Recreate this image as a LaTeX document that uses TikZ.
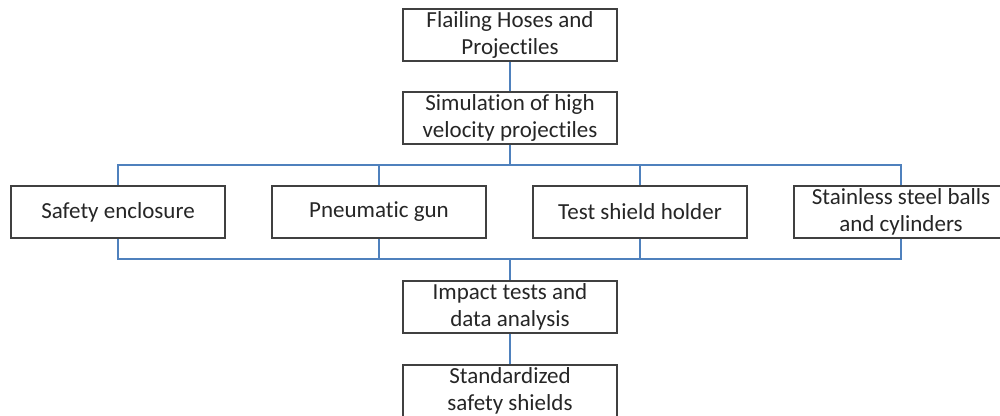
\documentclass[tikz,border=0pt]{standalone}
\usepackage{fontspec}
\setmainfont{Carlito}[Ligatures=NoCommon]
\usetikzlibrary{positioning}
\definecolor{linkblue}{RGB}{79,129,189}

\begin{document}
\begin{tikzpicture}[x=1pt,y=1pt,node distance=261pt,
    box/.style={draw=black!75,line width=1.6pt,fill=white,minimum width=214pt,minimum height=52pt,
                align=center,inner sep=1pt,font=\fontsize{23}{27}\selectfont,text=black!85},
    link/.style={draw=linkblue,line width=1.8pt}]
                    \useasboundingbox (0,0) rectangle (1000,-415);

                    \node[box] (hoses) at (510,-35) {Flailing Hoses and\\Projectiles};
                    \node[box] (sim) at (510,-118) {Simulation of high\\velocity projectiles};

                    \node[box] (enc) at (118,-212) {Safety enclosure};
                    \node[box] (gun) [right of = enc] {Pneumatic gun};
                    \node[box] (holder) [right of = gun] {Test shield holder};
                    \node[box] (balls) [right of = holder] {Stainless steel balls\\and cylinders};

                    \node[box] (impact) at (510,-307) {Impact tests and\\data analysis};
                    \node[box] (shields) at (510,-391) {Standardized\\safety shields};

                    \coordinate (topbus) at (510,-165);
                    \coordinate (botbus) at (510,-259);

                    \draw[link] (hoses) -- (sim);
                    \draw[link] (sim) -- (topbus);
                    \draw[link] (enc.north) |- (topbus);
                    \draw[link] (gun.north) |- (topbus);
                    \draw[link] (holder.north) |- (topbus);
                    \draw[link] (balls.north) |- (topbus);

                    \draw[link] (enc.south) |- (botbus);
                    \draw[link] (gun.south) |- (botbus);
                    \draw[link] (holder.south) |- (botbus);
                    \draw[link] (balls.south) |- (botbus);
                    \draw[link] (botbus) -- (impact);
                    \draw[link] (impact) -- (shields);

                \end{tikzpicture}
\end{document}
